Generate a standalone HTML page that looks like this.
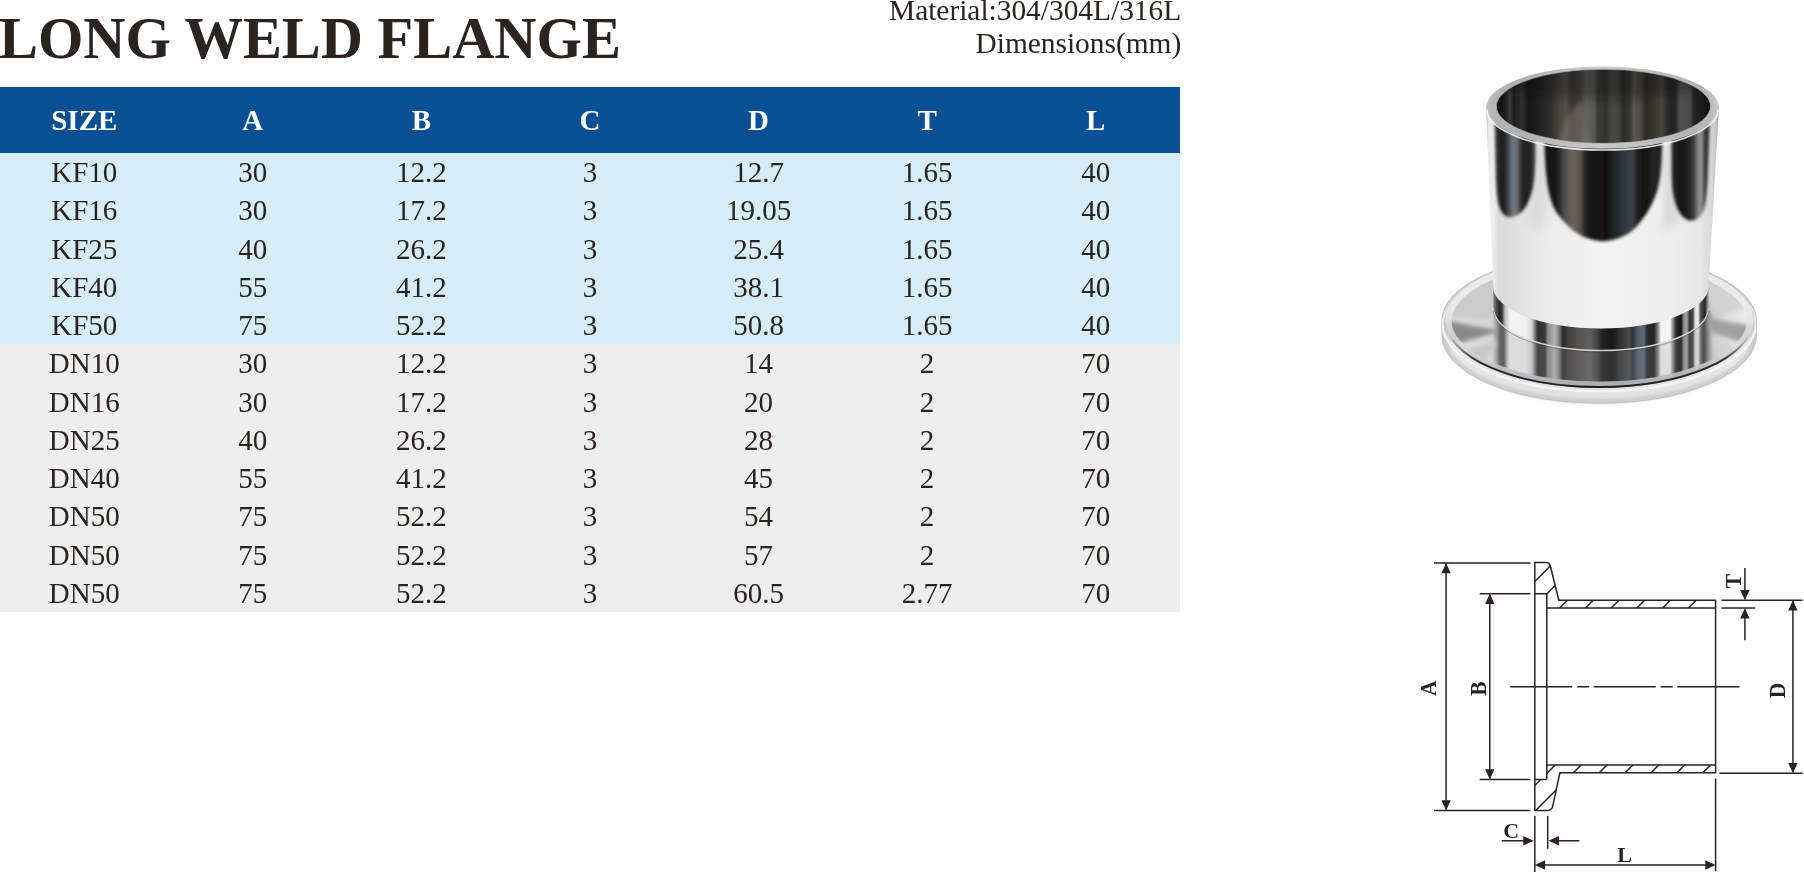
<!DOCTYPE html>
<html><head><meta charset="utf-8"><title>Long Weld Flange</title>
<style>
html,body{margin:0;padding:0;background:#fff;}
body{width:1804px;height:873px;position:relative;overflow:hidden;font-family:"Liberation Serif",serif;color:#2a2320;}
#title{position:absolute;left:-1px;top:5.6px;font-size:58.4px;font-weight:bold;line-height:66px;white-space:nowrap;color:#2a2320;}
#meta{position:absolute;right:622.5px;top:-6.2px;text-align:right;font-size:29.4px;line-height:32.5px;white-space:nowrap;}
#hd{position:absolute;left:0;top:87px;width:1180px;height:66px;background:#084f93;color:#fff;font-weight:bold;font-size:29px;line-height:66px;}
#title,#meta,#hd,#rows{will-change:transform;}
#hd span,.r span{display:inline-block;width:168.57px;text-align:center;}
#kf{position:absolute;left:0;top:153px;width:1180px;height:191px;background:#d6edfa;}
#dn{position:absolute;left:0;top:344px;width:1180px;height:268px;background:#eeeeee;}
#rows{position:absolute;left:0;top:153px;width:1180px;font-size:29px;}
.r{height:38.27px;line-height:38.27px;white-space:nowrap;}
</style></head><body>
<div id="title">LONG WELD FLANGE</div>
<div id="meta">Material:304/304L/316L<br>Dimensions(mm)</div>
<div id="hd"><span>SIZE</span><span>A</span><span>B</span><span>C</span><span>D</span><span>T</span><span>L</span></div>
<div id="kf"></div><div id="dn"></div>
<div id="rows">
<div class="r"><span>KF10</span><span>30</span><span>12.2</span><span>3</span><span>12.7</span><span>1.65</span><span>40</span></div>
<div class="r"><span>KF16</span><span>30</span><span>17.2</span><span>3</span><span>19.05</span><span>1.65</span><span>40</span></div>
<div class="r"><span>KF25</span><span>40</span><span>26.2</span><span>3</span><span>25.4</span><span>1.65</span><span>40</span></div>
<div class="r"><span>KF40</span><span>55</span><span>41.2</span><span>3</span><span>38.1</span><span>1.65</span><span>40</span></div>
<div class="r"><span>KF50</span><span>75</span><span>52.2</span><span>3</span><span>50.8</span><span>1.65</span><span>40</span></div>
<div class="r"><span>DN10</span><span>30</span><span>12.2</span><span>3</span><span>14</span><span>2</span><span>70</span></div>
<div class="r"><span>DN16</span><span>30</span><span>17.2</span><span>3</span><span>20</span><span>2</span><span>70</span></div>
<div class="r"><span>DN25</span><span>40</span><span>26.2</span><span>3</span><span>28</span><span>2</span><span>70</span></div>
<div class="r"><span>DN40</span><span>55</span><span>41.2</span><span>3</span><span>45</span><span>2</span><span>70</span></div>
<div class="r"><span>DN50</span><span>75</span><span>52.2</span><span>3</span><span>54</span><span>2</span><span>70</span></div>
<div class="r"><span>DN50</span><span>75</span><span>52.2</span><span>3</span><span>57</span><span>2</span><span>70</span></div>
<div class="r"><span>DN50</span><span>75</span><span>52.2</span><span>3</span><span>60.5</span><span>2.77</span><span>70</span></div>
</div>
<!--PHOTOSTART-->
<svg id="photo" width="1804" height="873" viewBox="0 0 1804 873" style="position:absolute;left:0;top:0;pointer-events:none">
<defs><linearGradient id="gRing" gradientUnits="userSpaceOnUse" x1="1493" y1="0" x2="1709" y2="0"><stop offset="0.0000" stop-color="#8a8a8a"/><stop offset="0.0139" stop-color="#555"/><stop offset="0.0301" stop-color="#262626"/><stop offset="0.0417" stop-color="#3a3a3a"/><stop offset="0.0556" stop-color="#bdbdbd"/><stop offset="0.0787" stop-color="#f4f4f4"/><stop offset="0.1528" stop-color="#f2f2f2"/><stop offset="0.1806" stop-color="#cfcfcf"/><stop offset="0.1944" stop-color="#777"/><stop offset="0.2083" stop-color="#303030"/><stop offset="0.2407" stop-color="#3a3a3a"/><stop offset="0.2546" stop-color="#8e8e8e"/><stop offset="0.2870" stop-color="#b4b4b4"/><stop offset="0.3056" stop-color="#808080"/><stop offset="0.3241" stop-color="#2a2a2a"/><stop offset="0.3426" stop-color="#3c3c3c"/><stop offset="0.3935" stop-color="#55514f"/><stop offset="0.4491" stop-color="#625e5b"/><stop offset="0.4815" stop-color="#454545"/><stop offset="0.5046" stop-color="#222"/><stop offset="0.5509" stop-color="#161616"/><stop offset="0.5880" stop-color="#333"/><stop offset="0.6296" stop-color="#4a4a4a"/><stop offset="0.6481" stop-color="#2a3440"/><stop offset="0.6713" stop-color="#52606e"/><stop offset="0.6991" stop-color="#5a6a78"/><stop offset="0.7130" stop-color="#2a2a2a"/><stop offset="0.7454" stop-color="#222"/><stop offset="0.7639" stop-color="#888"/><stop offset="0.7778" stop-color="#f4f4f4"/><stop offset="0.8194" stop-color="#f6f6f6"/><stop offset="0.8333" stop-color="#888"/><stop offset="0.8472" stop-color="#2c2c2c"/><stop offset="0.8704" stop-color="#141414"/><stop offset="0.8843" stop-color="#909090"/><stop offset="0.8981" stop-color="#a0a0a0"/><stop offset="0.9097" stop-color="#333"/><stop offset="0.9259" stop-color="#444"/><stop offset="0.9352" stop-color="#d8d8d8"/><stop offset="0.9491" stop-color="#f0f0f0"/><stop offset="0.9606" stop-color="#555"/><stop offset="0.9815" stop-color="#262626"/><stop offset="0.9907" stop-color="#777"/><stop offset="1.0000" stop-color="#aaa"/></linearGradient>
<linearGradient id="gFl" gradientUnits="userSpaceOnUse" x1="1442" y1="0" x2="1756" y2="0"><stop offset="0.0000" stop-color="#f0f0f0"/><stop offset="0.0318" stop-color="#e2e2e2"/><stop offset="0.1051" stop-color="#dcdcdc"/><stop offset="0.1592" stop-color="#d4d4d4"/><stop offset="0.1752" stop-color="#9a9a9a"/><stop offset="0.1879" stop-color="#505050"/><stop offset="0.1975" stop-color="#5a5a5a"/><stop offset="0.2102" stop-color="#d8d8d8"/><stop offset="0.2166" stop-color="#f4f4f4"/><stop offset="0.2675" stop-color="#f2f2f2"/><stop offset="0.2866" stop-color="#cfcfcf"/><stop offset="0.2962" stop-color="#777"/><stop offset="0.3057" stop-color="#303030"/><stop offset="0.3280" stop-color="#3a3a3a"/><stop offset="0.3376" stop-color="#8e8e8e"/><stop offset="0.3599" stop-color="#b4b4b4"/><stop offset="0.3726" stop-color="#808080"/><stop offset="0.3854" stop-color="#2a2a2a"/><stop offset="0.3981" stop-color="#3c3c3c"/><stop offset="0.4331" stop-color="#55514f"/><stop offset="0.4713" stop-color="#625e5b"/><stop offset="0.4936" stop-color="#454545"/><stop offset="0.5096" stop-color="#222"/><stop offset="0.5414" stop-color="#161616"/><stop offset="0.5669" stop-color="#333"/><stop offset="0.5955" stop-color="#4a4a4a"/><stop offset="0.6083" stop-color="#2a3440"/><stop offset="0.6242" stop-color="#52606e"/><stop offset="0.6433" stop-color="#5a6a78"/><stop offset="0.6529" stop-color="#2a2a2a"/><stop offset="0.6752" stop-color="#222"/><stop offset="0.6879" stop-color="#888"/><stop offset="0.6975" stop-color="#f4f4f4"/><stop offset="0.7261" stop-color="#f6f6f6"/><stop offset="0.7357" stop-color="#888"/><stop offset="0.7452" stop-color="#2c2c2c"/><stop offset="0.7611" stop-color="#141414"/><stop offset="0.7707" stop-color="#909090"/><stop offset="0.7803" stop-color="#a0a0a0"/><stop offset="0.7882" stop-color="#333"/><stop offset="0.7994" stop-color="#444"/><stop offset="0.8057" stop-color="#d8d8d8"/><stop offset="0.8153" stop-color="#f0f0f0"/><stop offset="0.8248" stop-color="#666"/><stop offset="0.8344" stop-color="#3a3a3a"/><stop offset="0.8471" stop-color="#8a8a8a"/><stop offset="0.8631" stop-color="#c4c4c4"/><stop offset="0.9013" stop-color="#dedede"/><stop offset="0.9650" stop-color="#ececec"/><stop offset="1.0000" stop-color="#e0e0e0"/></linearGradient>
<linearGradient id="gBody" gradientUnits="userSpaceOnUse" x1="1486" y1="0" x2="1719" y2="0"><stop offset="0.0000" stop-color="#b4b4b4"/><stop offset="0.0107" stop-color="#e6e6e6"/><stop offset="0.0300" stop-color="#efefef"/><stop offset="0.0558" stop-color="#dadada"/><stop offset="0.1245" stop-color="#e0e0e0"/><stop offset="0.2532" stop-color="#ebebeb"/><stop offset="0.4893" stop-color="#f3f3f3"/><stop offset="0.7897" stop-color="#efefef"/><stop offset="0.9185" stop-color="#e6e6e6"/><stop offset="0.9657" stop-color="#dadada"/><stop offset="0.9871" stop-color="#c6c6c6"/><stop offset="1.0000" stop-color="#a6a6a6"/></linearGradient>
<linearGradient id="gCA" gradientUnits="userSpaceOnUse" x1="1543" y1="0" x2="1667" y2="0"><stop offset="0.0000" stop-color="#2a2a2a"/><stop offset="0.0403" stop-color="#101010"/><stop offset="0.1210" stop-color="#1c1c1c"/><stop offset="0.1613" stop-color="#4a4644"/><stop offset="0.2339" stop-color="#6a6461"/><stop offset="0.2984" stop-color="#5a5552"/><stop offset="0.3306" stop-color="#2a2a2a"/><stop offset="0.3790" stop-color="#121212"/><stop offset="0.4597" stop-color="#1a1a1a"/><stop offset="0.5081" stop-color="#0e0e0e"/><stop offset="0.5726" stop-color="#20242a"/><stop offset="0.6532" stop-color="#2e343c"/><stop offset="0.7177" stop-color="#3c444e"/><stop offset="0.7661" stop-color="#1c1c1c"/><stop offset="0.8306" stop-color="#141414"/><stop offset="0.8952" stop-color="#262626"/><stop offset="0.9597" stop-color="#1a1a1a"/><stop offset="1.0000" stop-color="#444"/></linearGradient>
<linearGradient id="gLA" gradientUnits="userSpaceOnUse" x1="1494" y1="0" x2="1536" y2="0"><stop offset="0.0000" stop-color="#666"/><stop offset="0.0714" stop-color="#2a2a2a"/><stop offset="0.2143" stop-color="#1a1a1a"/><stop offset="0.3333" stop-color="#3a3f45"/><stop offset="0.4286" stop-color="#6d747c"/><stop offset="0.5476" stop-color="#70767c"/><stop offset="0.6190" stop-color="#333"/><stop offset="0.7619" stop-color="#1c1c1c"/><stop offset="0.9048" stop-color="#2a2a2a"/><stop offset="1.0000" stop-color="#555"/></linearGradient>
<linearGradient id="gRA" gradientUnits="userSpaceOnUse" x1="1671" y1="0" x2="1710" y2="0"><stop offset="0.0000" stop-color="#333"/><stop offset="0.0769" stop-color="#1c1c1c"/><stop offset="0.3333" stop-color="#161616"/><stop offset="0.5128" stop-color="#2a2a2a"/><stop offset="0.6154" stop-color="#4a4a4a"/><stop offset="0.7051" stop-color="#8a8a8a"/><stop offset="0.7821" stop-color="#9a9a9a"/><stop offset="0.8462" stop-color="#3a3a3a"/><stop offset="1.0000" stop-color="#2a2a2a"/></linearGradient>
<linearGradient id="gIn" gradientUnits="userSpaceOnUse" x1="1496" y1="0" x2="1711" y2="0"><stop offset="0.0000" stop-color="#0e0e0e"/><stop offset="0.0372" stop-color="#181818"/><stop offset="0.0651" stop-color="#3a3a3a"/><stop offset="0.0837" stop-color="#1c1c1c"/><stop offset="0.1209" stop-color="#303030"/><stop offset="0.1488" stop-color="#161616"/><stop offset="0.1953" stop-color="#1e1e1e"/><stop offset="0.2326" stop-color="#2a2a2a"/><stop offset="0.2605" stop-color="#343230"/><stop offset="0.2977" stop-color="#4a4642"/><stop offset="0.3256" stop-color="#55504c"/><stop offset="0.3535" stop-color="#3c3a37"/><stop offset="0.3907" stop-color="#464440"/><stop offset="0.4186" stop-color="#626260"/><stop offset="0.4558" stop-color="#5a5a58"/><stop offset="0.4744" stop-color="#3c3a37"/><stop offset="0.5116" stop-color="#343230"/><stop offset="0.5395" stop-color="#4a4a48"/><stop offset="0.5674" stop-color="#444442"/><stop offset="0.5907" stop-color="#2c2c2a"/><stop offset="0.6233" stop-color="#3a3836"/><stop offset="0.6419" stop-color="#5a544e"/><stop offset="0.6698" stop-color="#4e4a46"/><stop offset="0.6977" stop-color="#2c2a28"/><stop offset="0.7442" stop-color="#3c3834"/><stop offset="0.7721" stop-color="#4a4642"/><stop offset="0.8000" stop-color="#282828"/><stop offset="0.8326" stop-color="#242424"/><stop offset="0.8558" stop-color="#505050"/><stop offset="0.9023" stop-color="#4a4a4a"/><stop offset="0.9209" stop-color="#242424"/><stop offset="0.9674" stop-color="#181818"/><stop offset="1.0000" stop-color="#0e0e0e"/></linearGradient>
<linearGradient id="gInV" gradientUnits="userSpaceOnUse" x1="0" y1="69" x2="0" y2="144"><stop offset="0.0000" stop-color="#000"/><stop offset="0.4133" stop-color="#000"/><stop offset="1.0000" stop-color="#000"/></linearGradient>
<linearGradient id="gRim" gradientUnits="userSpaceOnUse" x1="1486" y1="0" x2="1719" y2="0"><stop offset="0.0000" stop-color="#c4c4c4"/><stop offset="0.0258" stop-color="#b6b6b6"/><stop offset="0.1459" stop-color="#b0b0b0"/><stop offset="0.3176" stop-color="#bebebe"/><stop offset="0.4893" stop-color="#c8c8c8"/><stop offset="0.7039" stop-color="#c0c0c0"/><stop offset="0.9185" stop-color="#b4b4b4"/><stop offset="0.9700" stop-color="#bebebe"/><stop offset="1.0000" stop-color="#d0d0d0"/></linearGradient>
<linearGradient id="gFrim" gradientUnits="userSpaceOnUse" x1="1442" y1="0" x2="1756.5" y2="0"><stop offset="0.0000" stop-color="#9c9c9c"/><stop offset="0.0079" stop-color="#cacaca"/><stop offset="0.0318" stop-color="#e9e9e9"/><stop offset="0.1844" stop-color="#e4e4e4"/><stop offset="0.5024" stop-color="#e1e1e1"/><stop offset="0.8203" stop-color="#e4e4e4"/><stop offset="0.9634" stop-color="#e9e9e9"/><stop offset="0.9889" stop-color="#d2d2d2"/><stop offset="1.0000" stop-color="#a4a4a4"/></linearGradient>
<linearGradient id="gFrimV" gradientUnits="userSpaceOnUse" x1="0" y1="383" x2="0" y2="402.5"><stop offset="0.0000" stop-color="#ffffff"/><stop offset="0.3590" stop-color="#ffffff"/><stop offset="0.6667" stop-color="#e2e2e2"/><stop offset="1.0000" stop-color="#cfcfcf"/></linearGradient>
<filter id="b1" x="-10%" y="-10%" width="120%" height="120%"><feGaussianBlur stdDeviation="1.1"/></filter><filter id="b15" x="-10%" y="-10%" width="120%" height="120%"><feGaussianBlur stdDeviation="1.7"/></filter>
<filter id="b2" x="-40%" y="-40%" width="180%" height="180%"><feGaussianBlur stdDeviation="2.2"/></filter>
<filter id="b3" x="-50%" y="-50%" width="200%" height="200%"><feGaussianBlur stdDeviation="4"/></filter>
<filter id="b05" x="-5%" y="-5%" width="110%" height="110%"><feGaussianBlur stdDeviation="0.6"/></filter>
<clipPath id="cRim"><path d="M1442.0 320.9A157.2 67.1 0 0 1 1756.4 320.9L1756.4 335.5A157.2 67.5 0 0 1 1442.0 335.5Z"/></clipPath>
<linearGradient id="gEdgeV" gradientUnits="userSpaceOnUse" x1="0" y1="335" x2="0" y2="390"><stop offset="0.0000" stop-color="#2a2a2a" stop-opacity="0"/><stop offset="0.4909" stop-color="#2a2a2a"/><stop offset="1.0000" stop-color="#1e1e1e"/></linearGradient>
<linearGradient id="gBevV" gradientUnits="userSpaceOnUse" x1="0" y1="300" x2="0" y2="388"><stop offset="0" stop-color="#efefef" stop-opacity="0.9"/><stop offset="0.5" stop-color="#dcdddf" stop-opacity="0.8"/><stop offset="1" stop-color="#a9adb4"/></linearGradient>
<linearGradient id="gRimTop" gradientUnits="userSpaceOnUse" x1="0" y1="285" x2="0" y2="332"><stop offset="0" stop-color="#c6c6c6"/><stop offset="1" stop-color="#c6c6c6" stop-opacity="0"/></linearGradient>
<clipPath id="cFt"><ellipse cx="1599.2" cy="320.9" rx="154.2" ry="67.1" /></clipPath>
<clipPath id="cBody"><path d="M1486.1999999999998 107.6L1493.3000000000002 286.5A107.6 42.0 0 0 0 1708.5 286.5L1719.0 107.6Z"/></clipPath>
<clipPath id="cIn"><ellipse cx="1603.4" cy="106.3" rx="107.0" ry="36.9" /></clipPath></defs>
<ellipse cx="1599.2" cy="338.0" rx="153.2" ry="66.0" fill="#d6d6d6" filter="url(#b1)"/>
<path d="M1442.0 320.9A157.2 67.1 0 0 1 1756.4 320.9L1756.4 335.5A157.2 67.5 0 0 1 1442.0 335.5Z" fill="url(#gFrim)" stroke="#b4b4b4" stroke-width="1.2" stroke-opacity="0.8"/>
<g clip-path="url(#cRim)"><ellipse cx="1599.2" cy="335.5" rx="157.2" ry="67.5" fill="none" stroke="#cccccc" stroke-width="8" filter="url(#b1)" opacity="0.9"/>
<ellipse cx="1599.2" cy="324.09999999999997" rx="156.7" ry="67.1" fill="none" stroke="#f4f4f4" stroke-width="2.4" filter="url(#b05)"/></g>
<g clip-path="url(#cRim)"><rect x="1430" y="240" width="340" height="95" fill="url(#gRimTop)"/></g>
<g clip-path="url(#cFt)">
<ellipse cx="1599.2" cy="320.9" rx="154.2" ry="67.1" fill="url(#gFl)"/>
<rect x="1500" y="300" width="206" height="100" fill="#8c8c8c" opacity="0.22"/>
<path d="M1430 250H1498V300Q1498 324 1476 320L1430 314Z" fill="#cbcbcb" filter="url(#b2)"/>
<path d="M1770 250H1706V296Q1708 318 1724 314L1770 302Z" fill="#d2d2d2" filter="url(#b2)"/>
<path d="M1500 331L1440 319L1440 349Z" fill="#8a8a8a" filter="url(#b2)"/>
<path d="M1498 342L1446 354L1470 378Z" fill="#c6c6c6" filter="url(#b2)"/>
<path d="M1706 318L1754 326L1750 346L1712 332Z" fill="#a0a0a0" filter="url(#b2)"/>
<path d="M1712 337L1748 352L1722 376Z" fill="#d2d2d2" filter="url(#b2)"/>
<ellipse cx="1599.2" cy="320.9" rx="154.2" ry="67.1" fill="none" stroke="url(#gBevV)" stroke-width="13" filter="url(#b05)"/>
<ellipse cx="1599.2" cy="320.9" rx="154.2" ry="67.1" fill="none" stroke="url(#gEdgeV)" stroke-width="3.8" filter="url(#b05)"/>
</g>
<path d="M1493.3000000000002 286.5A107.6 42.0 0 0 0 1708.5 286.5L1708.5 308.5A107.6 42.0 0 0 1 1493.3000000000002 308.5Z" fill="url(#gRing)"/>
<path d="M1493.3000000000002 308.5A107.6 42.0 0 0 0 1708.5 308.5" fill="none" stroke="#dcdcdc" stroke-width="1.6" opacity="0.9" filter="url(#b05)"/>
<path d="M1493.3000000000002 310.1A107.6 42.0 0 0 0 1708.5 310.1" fill="none" stroke="#333" stroke-width="0.9" opacity="0.45"/>
<path d="M1486.1999999999998 107.6L1493.3000000000002 286.5A107.6 42.0 0 0 0 1708.5 286.5L1719.0 107.6Z" fill="url(#gBody)"/>
<g clip-path="url(#cBody)">
<path d="M1534 140L1547 140L1549 200L1542 232L1526 224Z" fill="#dcdcdc" filter="url(#b3)"/>
<path d="M1665 140L1673 140L1680 222L1662 232L1664 200Z" fill="#d8d8d8" filter="url(#b3)"/>
<g filter="url(#b15)">
<path d="M1543.5 100L1544.5 150.6C1545.5 172 1547 186 1550 197C1553 208 1557 214 1562.5 220C1571 230 1582 239.5 1601.6 241.3C1619 240.5 1630 234 1637 226C1645 217 1652 206 1657 192C1661 178 1661.5 165 1662 150.6L1662 100Z" fill="url(#gCA)"/>
<path d="M1494 100L1495.8 171C1496 185 1496.8 196 1498.5 204C1500.5 212 1504 216.5 1509 217.2C1514 217.6 1519 215 1524 209.5C1528.5 203 1532 194 1534 182C1535.5 170 1535.6 158 1535.6 146.5L1535.6 100Z" fill="url(#gLA)"/>
<path d="M1671.3 100L1671.4 150.6C1671.5 165 1671.6 175 1672 185C1673 196 1675 204 1678.5 211C1682 217 1686 220.3 1690.5 220.7C1696 220.7 1700.5 217 1703.5 211C1706 204 1707.2 190 1708 171L1710.5 100Z" fill="url(#gRA)"/>
</g>
</g>
<ellipse cx="1602.6" cy="107.6" rx="116.4" ry="41.2" fill="url(#gRim)"/>
<path d="M1486.9999999999998 109.6A115.60000000000001 40.400000000000006 0 0 0 1718.2 109.6" fill="none" stroke="#f6f6f6" stroke-width="1.6" opacity="0.9" filter="url(#b05)"/>
<g clip-path="url(#cIn)">
<ellipse cx="1603.4" cy="106.3" rx="107.0" ry="36.9" fill="url(#gIn)"/>
<path d="M1556 150L1566 118L1582 100L1590 150Z" fill="#7a726c" opacity="0.55" filter="url(#b2)"/>
<ellipse cx="1603.4" cy="76.3" rx="113.0" ry="22" fill="#0a0a0a" opacity="0.35" filter="url(#b3)"/>
</g>
<ellipse cx="1603.4" cy="106.3" rx="107.0" ry="36.9" fill="none" stroke="#8a8a8a" stroke-width="0.8" opacity="0.6"/>
</svg>
<!--PHOTOEND-->
<!--DRAWSTART-->
<svg id="draw" width="1804" height="873" viewBox="0 0 1804 873" style="position:absolute;left:0;top:0;pointer-events:none;will-change:transform">
<defs><clipPath id="ct"><path d="M1534.8 562.5L1546.0 562.5Q1549.6 562.5 1550.4 566.3L1558.8 600.3L1715.6 600.3L1715.6 608.1L1546.8 608.1L1546.8 593.8L1534.8 593.8Z"/></clipPath><clipPath id="cb"><path d="M1534.8 810.5L1547.3 810.5Q1551.6 810.5 1552.6 806.6L1559.9 772.8L1715.6 772.8L1715.6 765.1L1546.8 765.1L1546.8 779.5L1534.8 779.5Z"/></clipPath></defs>
<g fill="none" stroke="#2a2320" stroke-width="1.5">
<path d="M1434.0 562.9L1530.4 562.9M1434.0 810.5L1530.4 810.5M1446.1 563.5L1446.1 809.5M1479.7 593.8L1530.4 593.8M1479.7 779.5L1530.4 779.5M1489.8 594.8L1489.8 778.5M1721.4 600.3L1802.6 600.3M1719.3 773.2L1802.7 773.2M1792.9 601.3L1792.9 771.8M1721.4 608.1L1755.2 608.1M1744.9 568.0L1744.9 598.3M1744.9 610.1L1744.9 640.2M1534.8 815.8L1534.8 872.0M1547.7 815.8L1547.7 848.7M1501.8 840.8L1531.8 840.8M1550.7 840.8L1579.4 840.8M1715.6 778.5L1715.6 871.3M1536.8 865.0L1713.6 865.0M1510.2 686.8L1572.2 686.8M1577.2 686.8L1589.2 686.8M1593.7 686.8L1655.7 686.8M1660.7 686.8L1672.7 686.8M1677.2 686.8L1739.5 686.8"/>
<path d="M1534.8 562.5L1546.0 562.5Q1549.6 562.5 1550.4 566.3L1558.8 600.3L1715.6 600.3L1715.6 772.8L1559.9 772.8L1552.6 806.6Q1551.6 810.5 1547.3 810.5L1534.8 810.5ZM1546.8 593.8L1546.8 779.5M1534.8 593.8L1546.8 593.8M1534.8 779.5L1546.8 779.5M1546.8 608.1L1715.6 608.1M1546.8 765.1L1715.6 765.1" stroke-linejoin="miter"/>
<path clip-path="url(#ct)" d="M1216.3 900L1616.3 500M1240.7 900L1640.7 500M1267.7 900L1667.7 500M1293.4 900L1693.4 500M1319.2 900L1719.2 500M1344.9 900L1744.9 500M1370.7 900L1770.7 500M1396.4 900L1796.4 500"/>
<path clip-path="url(#cb)" d="M1420.2 900L1820.2 500M1446.1 900L1846.1 500M1472.0 900L1872.0 500M1497.9 900L1897.9 500M1523.8 900L1923.8 500M1549.7 900L1949.7 500M1575.6 900L1975.6 500"/>
</g>
<path fill="#2a2320" d="M1446.1 562.9L1450.8 573.2L1441.4 573.2ZM1446.1 810.5L1441.4 800.2L1450.8 800.2ZM1489.8 593.8L1494.5 604.1L1485.1 604.1ZM1489.8 779.5L1485.1 769.2L1494.5 769.2ZM1792.9 600.3L1797.6 610.6L1788.2 610.6ZM1792.9 773.2L1788.2 762.9L1797.6 762.9ZM1744.9 600.3L1740.2 590.0L1749.6 590.0ZM1744.9 608.1L1749.6 618.4L1740.2 618.4ZM1533.6 840.8L1523.3 845.5L1523.3 836.1ZM1548.6 840.8L1558.9 836.1L1558.9 845.5ZM1534.8 865.0L1545.1 860.3L1545.1 869.7ZM1715.6 865.0L1705.3 869.7L1705.3 860.3Z"/>
<g fill="#2a2320" font-family="Liberation Serif, serif" font-weight="bold" font-size="22" text-anchor="middle">
<text transform="translate(1436.2 688.2) rotate(-90) scale(0.98 1.08)">A</text>
<text transform="translate(1486.0 688.5) rotate(-90) scale(0.98 1.08)">B</text>
<text transform="translate(1785.4 690.5) rotate(-90) scale(0.98 1.08)">D</text>
<text transform="translate(1740.6 581) rotate(-90) scale(0.98 1.08)">T</text>
<text x="1511.3" y="838">C</text><text x="1624.5" y="861.9">L</text>
</g></svg>
<!--DRAWEND-->
</body></html>
